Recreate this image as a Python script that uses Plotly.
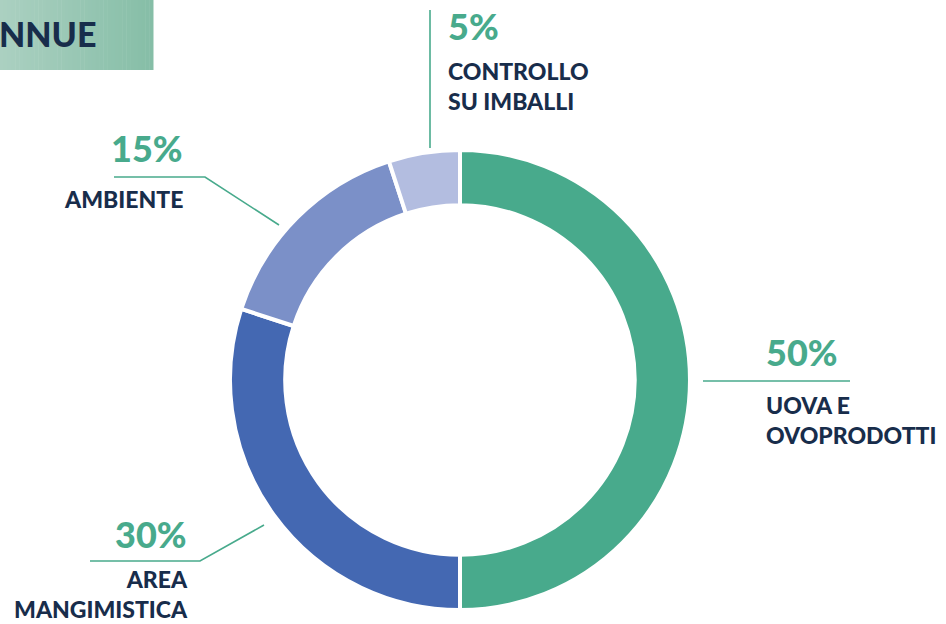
import plotly.graph_objects as go

W, H = 946, 624

# slice data, clockwise from 12 o'clock
categories = ["UOVA E<br>OVOPRODOTTI", "AREA<br>MANGIMISTICA", "AMBIENTE", "CONTROLLO<br>SU IMBALLI"]
values = [50, 30, 15, 5]
pct_labels = ["50%", "30%", "15%", "5%"]
colors = ["#48AA8C", "#4468B2", "#7B90C8", "#B3BDE0"]

header_text = "NNUE"

GREEN = "#48AA8C"
NAVY = "#182D4B"
FONT = "Lato"


def px(x):
    return x / W


def py(y):
    return 1 - y / H


fig = go.Figure()

# donut: centre (460, 380), outer radius ~230
fig.add_trace(go.Pie(
    labels=categories,
    values=values,
    sort=False,
    direction="clockwise",
    rotation=0,
    hole=0.76,
    marker=dict(colors=colors, line=dict(color="white", width=4)),
    textinfo="none",
    hoverinfo="skip",
    showlegend=False,
    domain=dict(x=[px(230), px(690)], y=[py(610), py(150)]),
))

shapes = []

# header box with horizontal gradient
n_steps = 40
c0 = (171, 208, 193)
c1 = (134, 190, 167)
for i in range(n_steps):
    t = i / (n_steps - 1)
    c = tuple(int(round(a + (b - a) * t)) for a, b in zip(c0, c1))
    shapes.append(dict(
        type="rect", xref="paper", yref="paper",
        x0=px(153 * i / n_steps), x1=px(153 * (i + 1) / n_steps + 0.5),
        y0=py(70), y1=py(0),
        fillcolor="rgb(%d,%d,%d)" % c, line=dict(width=0), layer="below",
    ))

# leader lines
leaders = [
    [(703, 381), (850, 381)],
    [(264, 525), (200, 561), (90, 561)],
    [(279, 225), (205, 177), (114, 177)],
    [(430, 148), (430, 10)],
]
for pts in leaders:
    path = "M " + " L ".join("%f,%f" % (px(x), py(y)) for x, y in pts)
    shapes.append(dict(type="path", xref="paper", yref="paper", path=path,
                       line=dict(color=GREEN, width=1.6)))

annotations = []


def label(text, x, y, anchor, size, color, weight="bold"):
    annotations.append(dict(
        text=text, x=px(x), y=py(y), xref="paper", yref="paper",
        xanchor=anchor, yanchor="middle", showarrow=False, align=anchor,
        borderpad=0,
        font=dict(family=FONT, size=size, color=color, weight=weight),
    ))


# label placement: (pct x, pct y, name x, name y, anchor)
places = [
    (765, 352, 765, 420, "left"),
    (188, 534, 189, 594, "right"),
    (184, 148, 184, 199, "right"),
    (447, 26, 447, 86, "left"),
]
for pct, name, (x1, y1, x2, y2, anc) in zip(pct_labels, categories, places):
    label(pct, x1, y1, anc, 36, GREEN, 900)
    label(name, x2, y2, anc, 23, NAVY, 900)

label(header_text, -2, 33, "left", 34, NAVY, 900)

fig.update_layout(
    width=W, height=H,
    margin=dict(l=0, r=0, t=0, b=0),
    paper_bgcolor="white",
    plot_bgcolor="white",
    shapes=shapes,
    annotations=annotations,
)

# drop the browser's default body margin so the figure sits at the page corner
fig.write_html("out.html", config={"displayModeBar": False},
               post_script="document.body.style.margin='0';")
